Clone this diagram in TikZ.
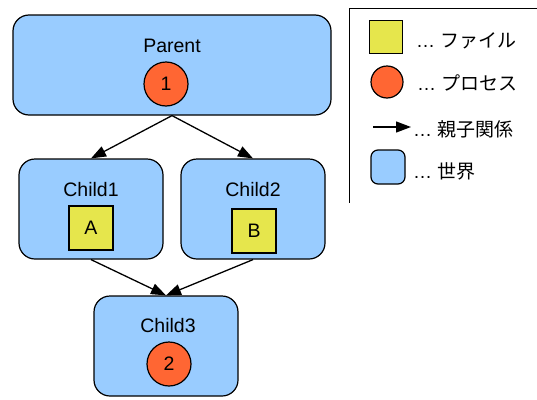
\documentclass[tikz,border=0pt]{standalone}
\usepackage{fontspec}
\setmainfont{Liberation Sans}
\newfontfamily\jp{Noto Sans CJK JP}
\usetikzlibrary{arrows.meta}
\definecolor{worldblue}{HTML}{99CCFF}
\definecolor{procorange}{HTML}{FF6633}
\definecolor{fileyellow}{HTML}{E6E64C}
\begin{document}
\begin{tikzpicture}[x=1pt,y=-1pt,
  world/.style={draw=black,line width=1.2pt,fill=worldblue,rounded corners=16pt,inner sep=0pt},
  proc/.style={draw=black,line width=1.2pt,fill=procorange,circle,inner sep=0pt,minimum size=44pt,font=\fontsize{19.5}{21}\selectfont},
  filebox/.style={draw=black,line width=1.2pt,fill=fileyellow,inner sep=0pt,minimum size=44pt,font=\fontsize{19.5}{21}\selectfont},
  lbl/.style={font=\fontsize{19.5}{21}\selectfont,inner sep=0pt},
  legtxt/.style={font=\fontsize{19}{21}\selectfont,inner sep=0pt,anchor=west},
  rel/.style={line width=1.3pt,-{Triangle[length=15pt,width=11pt]}}
]
\useasboundingbox (0,0) rectangle (537,399);
% worlds
\node[world,minimum width=318pt,minimum height=100pt] (parent) at (172,65) {};
\node[world,minimum width=144pt,minimum height=100pt] (child1) at (91,209) {};
\node[world,minimum width=144pt,minimum height=100pt] (child2) at (253,209) {};
\node[world,minimum width=144pt,minimum height=100pt] (child3) at (166,346) {};
% labels
\node[lbl] (tparent) at (172,46) {Parent};
\node[lbl] (tchild1) at (91,190) {Child1};
\node[lbl] (tchild2) at (253,190) {Child2};
\node[lbl] (tchild3) at (168,326) {Child3};
% processes and files
\node[proc] (p1) at (166,84) {1};
\node[proc] (p2) at (169,364) {2};
\node[filebox] (fa) at (91,228) {A};
\node[filebox] (fb) at (254,231) {B};
% relations
\draw[rel] (parent.south) -- (child1.north);
\draw[rel] (parent.south) -- (child2.north);
\draw[rel] (child1.south) -- (child3.north);
\draw[rel] (child2.south) -- (child3.north);
% legend frame
\coordinate (lgtr) at (537,8);
\coordinate (lgtl) at (349,8);
\coordinate (lgbl) at (349,203);
\draw[line width=1pt] (lgtr) -- (lgtl) -- (lgbl);
% legend entries
\node[draw=black,line width=1.2pt,fill=fileyellow,inner sep=0pt,minimum size=33pt] (lfile) at (386,37) {};
\node[legtxt] (tfile) at (416,41) {… {\jp ファイル}};
\node[draw=black,line width=1.2pt,fill=procorange,circle,inner sep=0pt,minimum size=32pt] (lproc) at (387,82) {};
\node[legtxt] (tproc) at (417,83) {… {\jp プロセス}};
\coordinate (larrs) at (373,127);
\coordinate (larre) at (411,127);
\draw[rel] (larrs) -- (larre);
\node[legtxt] (trel) at (413,129) {… {\jp 親子関係}};
\node[draw=black,line width=1.2pt,fill=worldblue,rounded corners=7pt,inner sep=0pt,minimum size=34pt] (lworld) at (388,167) {};
\node[legtxt] (tworld) at (413,171) {… {\jp 世界}};
\end{tikzpicture}
\end{document}
